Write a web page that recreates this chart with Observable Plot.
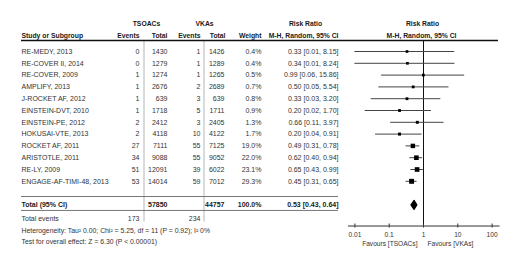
<!DOCTYPE html>
<html><head><meta charset="utf-8">
<script src="https://cdn.jsdelivr.net/npm/d3@7"></script>
<script src="https://cdn.jsdelivr.net/npm/@observablehq/plot@0.6"></script>
<style>body{margin:0;background:#fff}svg{display:block}</style>
</head><body><div id="chart"></div>
<script>
// ---- data ----
const studies = ["RE-MEDY, 2013","RE-COVER II, 2014","RE-COVER, 2009","AMPLIFY, 2013","J-ROCKET AF, 2012","EINSTEIN-DVT, 2010","EINSTEIN-PE, 2012","HOKUSAI-VTE, 2013","ROCKET AF, 2011","ARISTOTLE, 2011","RE-LY, 2009","ENGAGE-AF-TIMI-48, 2013"];
const tsoacEvents = [0,0,1,1,1,1,2,2,27,34,51,53];
const tsoacTotals = [1430,1279,1274,2676,639,1718,2412,4118,7111,9088,12091,14014];
const vkaEvents = [1,1,1,2,3,5,3,10,55,55,39,59];
const vkaTotals = [1426,1289,1265,2689,639,1711,2405,4122,7125,9052,6022,7012];
const weights = [0.4,0.4,0.5,0.7,0.8,0.9,1.3,1.7,19.0,22.0,23.1,29.3];
const rr = [0.33,0.34,0.99,0.50,0.33,0.20,0.66,0.20,0.49,0.62,0.65,0.45];
const lo = [0.01,0.01,0.06,0.05,0.03,0.02,0.11,0.04,0.31,0.40,0.43,0.31];
const hi = [8.15,8.24,15.86,5.54,3.20,1.70,3.97,0.91,0.78,0.94,0.99,0.65];
const totalCounts = [57850, 44757];      // TSOACs, VKAs
const totalEvents = [173, 234];          // TSOACs, VKAs
const totalWeight = [100.0];
const totalRR = [0.53, 0.43, 0.64];      // estimate, lower, upper
const tickValues = [0.01, 0.1, 1, 10, 100];
const tickLabels = ["0.01", "0.1", "1", "10", "100"];
const heterogeneityText = "Heterogeneity: Tau\u00b2 0.00; Chi\u00b2 = 5.25, df = 11 (P = 0.92); I\u00b2 0%";
const overallText = "Test for overall effect: Z = 6.30 (P < 0.00001)";

// ---- layout (rows in row units) ----
const R = {group: -2.37, head: -1.36, rule: -0.93, totalTop: 12.29, total: 13, totalBot: 13.47, events: 14.15, het: 15.17, test: 16.1, axis: 14.79, tickLab: 15.51, fav: 16.27};
const fmt2 = v => v.toFixed(2);
const rows = studies.map((s, i) => ({
  i, study: s, te: String(tsoacEvents[i]), tt: String(tsoacTotals[i]), ve: String(vkaEvents[i]), vt: String(vkaTotals[i]),
  w: weights[i], wtxt: weights[i].toFixed(1) + "%", rr: rr[i], lo: lo[i], hi: hi[i],
  ci: `${fmt2(rr[i])} [${fmt2(lo[i])}, ${fmt2(hi[i])}]`
}));
const totalRow = [{i: R.total, study: "Total (95% CI)", tt: String(totalCounts[0]), vt: String(totalCounts[1]), wtxt: totalWeight[0].toFixed(1) + "%",
  ci: `${fmt2(totalRR[0])} [${fmt2(totalRR[1])}, ${fmt2(totalRR[2])}]`}];
const eventsRow = [{i: R.events, study: "Total events", te: String(totalEvents[0]), ve: String(totalEvents[1])}];
const dh = 0.38;
const diamond = [
  {x: totalRR[1], y: R.total}, {x: totalRR[0], y: R.total - dh}, {x: totalRR[2], y: R.total},
  {x: totalRR[0], y: R.total + dh}, {x: totalRR[1], y: R.total}
];

const FS = 7, TXT = "#333", HEAD = "#1a1a1a";
const col = (data, text, dx, anchor, extra = {}) => Plot.text(data, {y: "i", text, frameAnchor: "left", dx, textAnchor: anchor, fontSize: FS, fill: TXT, ...extra});
const hdr = (label, row, dx, anchor) => Plot.text([label], {y: () => row, text: d => d, frameAnchor: "left", dx, textAnchor: anchor, fontSize: 6.8, fontWeight: "bold", fill: HEAD});
const vline = (px, y1, y2, fill) => Plot.rect([0], {y1: () => y1, y2: () => y2, insetLeft: px - 0.5, insetRight: 520 - px - 0.5, fill});
const hline = (row, left, right, stroke, sw) => Plot.ruleY([row], {y: d => d, insetLeft: left, insetRight: 520 - right, stroke, strokeWidth: sw});
const bold = {fontWeight: "bold", fill: HEAD};

const chart = Plot.plot({
  width: 520, height: 266,
  marginLeft: 0, marginRight: 0, marginTop: 0, marginBottom: 0,
  style: {fontFamily: "'Liberation Sans', Arial, sans-serif", background: "#fff"},
  x: {type: "log", domain: [0.01, 100], range: [354.4, 491.6], axis: null},
  y: {domain: [-4.322, 18.22], range: [0, 266], axis: null},
  r: {type: "sqrt", domain: [0, 30], range: [1.35, 2.8]},
  marks: [
    // table separators
    vline(144, R.rule, 14.45, "#b5b5b5"),
    vline(204, R.rule, 14.45, "#b5b5b5"),
    hline(R.rule, 21, 498, "#111", 1.5),
    hline(R.totalTop, 21, 338, "#666", 0.9),
    hline(R.totalBot, 21, 338, "#666", 0.9),
    // headers
    hdr("TSOACs", R.group, 146, "middle"),
    hdr("VKAs", R.group, 204, "middle"),
    hdr("Risk Ratio", R.group, 305, "middle"),
    hdr("Risk Ratio", R.group, 422, "middle"),
    hdr("Study or Subgroup", R.head, 21, "start"),
    hdr("Events", R.head, 139, "end"),
    hdr("Total", R.head, 167, "end"),
    hdr("Events", R.head, 200, "end"),
    hdr("Total", R.head, 225, "end"),
    hdr("Weight", R.head, 261, "end"),
    hdr("M-H, Random, 95% CI", R.head, 338, "end"),
    hdr("M-H, Random, 95% CI", R.head, 421, "middle"),
    // study rows
    col(rows, "study", 21, "start"),
    col(rows, "te", 139, "end"),
    col(rows, "tt", 167, "end"),
    col(rows, "ve", 200, "end"),
    col(rows, "vt", 224, "end"),
    col(rows, "wtxt", 261, "end"),
    col(rows, "ci", 338, "end"),
    // total row
    col(totalRow, "study", 21, "start", bold),
    col(totalRow, "tt", 167, "end", bold),
    col(totalRow, "vt", 224, "end", bold),
    col(totalRow, "wtxt", 261, "end", bold),
    col(totalRow, "ci", 338, "end", bold),
    col(eventsRow, "study", 21, "start"),
    col(eventsRow, "te", 139, "end"),
    col(eventsRow, "ve", 200, "end"),
    Plot.text([heterogeneityText], {y: () => R.het, text: d => d, frameAnchor: "left", dx: 21, textAnchor: "start", fontSize: 6.85, fill: TXT}),
    Plot.text([overallText], {y: () => R.test, text: d => d, frameAnchor: "left", dx: 21, textAnchor: "start", fontSize: 6.85, fill: TXT}),
    // forest
    Plot.ruleX([1], {x: d => d, y1: () => R.rule, y2: () => R.axis, stroke: "#111", strokeWidth: 1}),
    Plot.ruleY(rows, {y: "i", x1: "lo", x2: "hi", stroke: "#444", strokeWidth: 1}),
    Plot.dot(rows, {x: "rr", y: "i", r: "w", symbol: "square", fill: "#000", stroke: null}),
    Plot.line(diamond, {x: "x", y: "y", fill: "#000", stroke: "#000", strokeWidth: 1.2}),
    // axis
    Plot.ruleY([R.axis], {y: d => d, x1: () => 0.0065, x2: () => 170, stroke: "#333", strokeWidth: 1}),
    Plot.ruleX(tickValues, {x: d => d, y1: () => R.axis - 0.17, y2: () => R.axis + 0.17, stroke: "#333"}),
    Plot.text(tickValues, {x: d => d, y: () => R.tickLab, text: (d, i) => tickLabels[i], fontSize: 6.6, fill: TXT}),
    Plot.text(["Favours [TSOACs]"], {x: () => 1, y: () => R.fav, text: d => d, dx: -6, textAnchor: "end", fontSize: 6.6, fill: TXT}),
    Plot.text(["Favours [VKAs]"], {x: () => 1, y: () => R.fav, text: d => d, dx: 4, textAnchor: "start", fontSize: 6.6, fill: TXT})
  ]
});
document.getElementById("chart").appendChild(chart);
</script>
</body></html>
